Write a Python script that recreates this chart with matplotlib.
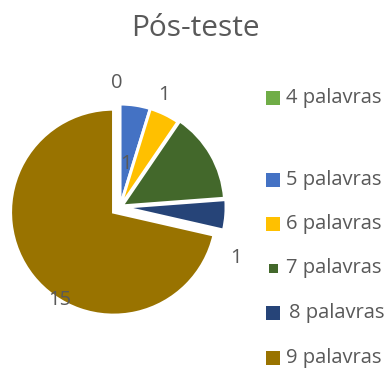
import matplotlib.pyplot as plt
from matplotlib.patches import Rectangle
import numpy as np

# Pós-teste: number of students per word count
categorias = ["4 palavras", "5 palavras", "6 palavras", "7 palavras", "8 palavras", "9 palavras"]
valores = [0, 1, 1, 3, 1, 15]
mostrar_rotulo = [True, True, True, False, True, True]

cores = ["#70AD47", "#4472C4", "#FFC000", "#43682B", "#264478", "#997300"]
explodir = [0, 0, 0, 0.02, 0.03, 0.08]
# where each value label sits (radius, angle in degrees) around the pie centre
pos_rotulo = [(1.20, 91.4), (0.42, 81.7), (1.17, 68.6), (0, 0), (1.23, -23.9), (1.08, 237)]

plt.rcParams['font.family'] = ['Open Sans', 'DejaVu Sans']
cinza = "#595959"

W, H = 386, 374
fig = plt.figure(figsize=(W / 100, H / 100), dpi=100)

# pie centre and radius in pixels
cx, cy, raio = 120, 207, 103
meia = 130
ax = fig.add_axes([(cx - meia) / W, (H - cy - meia) / H, 2 * meia / W, 2 * meia / H])

fatias, _ = ax.pie(valores, colors=cores, explode=explodir, startangle=90,
                   counterclock=False, radius=1,
                   wedgeprops=dict(edgecolor="white", linewidth=2.2))
for f in fatias:
    f.set_clip_on(False)

lim = meia / raio
ax.set_xlim(-lim, lim)
ax.set_ylim(-lim, lim)
ax.axis("off")

for v, ok, (r, ang) in zip(valores, mostrar_rotulo, pos_rotulo):
    if not ok:
        continue
    a = np.deg2rad(ang)
    ax.text(r * np.cos(a), r * np.sin(a), str(v), ha="center", va="center",
            fontsize=14.5, color=cinza)

fig.text(195 / W, 1 - 29 / H, "Pós-teste", ha="center", va="center",
         fontsize=21.5, color=cinza)

# legend drawn by hand, rows are not evenly spaced
linhas = [98, 180, 224, 268, 313, 358]
lados = [14, 14, 14, 9, 14, 14]
texto_x = [286, 286, 286, 286, 289, 286]
for nome, cor, y, lado, tx in zip(categorias, cores, linhas, lados, texto_x):
    fig.add_artist(Rectangle(((273 - lado / 2) / W, (H - y - lado / 2) / H), lado / W, lado / H,
                             transform=fig.transFigure, facecolor=cor, edgecolor="none"))
    fig.text(tx / W, 1 - y / H, nome, ha="left", va="center", fontsize=14.5, color=cinza)

fig.savefig("out.png", dpi=100)
